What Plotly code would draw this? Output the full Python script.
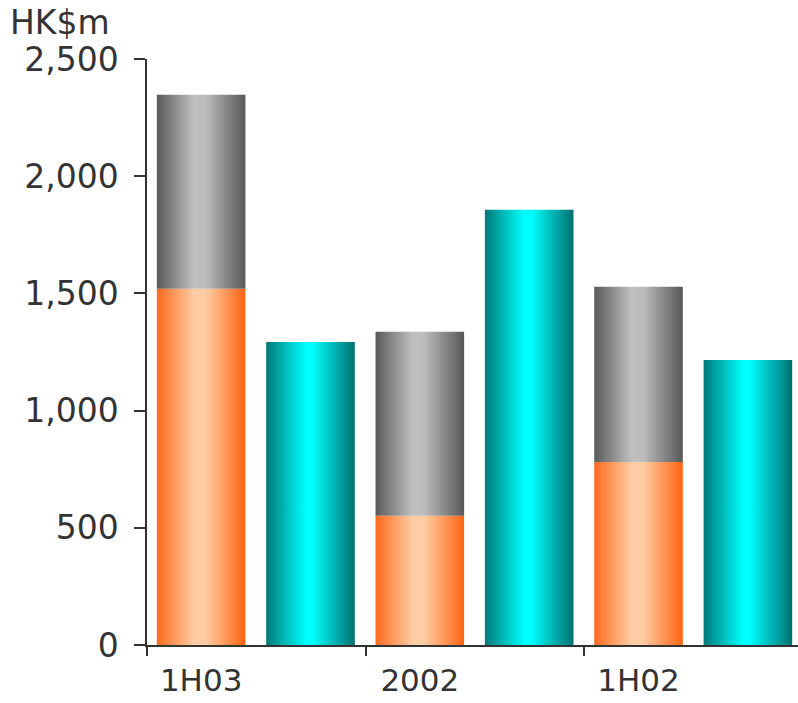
import plotly.graph_objects as go

# ---- data (HK$m) ----
categories = ["1H03", "2002", "1H02"]
orange_vals = [1520, 551, 781]        # lower stacked segment
grey_vals = [828, 785, 747]           # upper stacked segment
cyan_vals = [1293, 1857, 1216]        # single bar
y_ticks = [0, 500, 1000, 1500, 2000, 2500]
y_tick_labels = ["0", "500", "1,000", "1,500", "2,000", "2,500"]

# ---- styling ----
BAR_A = (0.045, 0.45)   # position of stacked bar within a group (group width = 1)
BAR_B = (0.545, 0.95)   # position of cyan bar within a group
ORANGE = [[0, "#ff6a1c"], [0.42, "#ffcca4"], [0.55, "#ffcca4"], [1, "#ff6410"]]
GREY = [[0, "#5a5a5a"], [0.42, "#c0c0c0"], [0.55, "#bcbcbc"], [1, "#585858"]]
CYAN = [[0, "#007a78"], [0.45, "#00ffff"], [0.52, "#00ffff"], [1, "#007070"]]
FONT = "DejaVu Sans"
FS = 33
FS_X = 31
TXT = "#333333"

fig = go.Figure()


def add_bar(i, span, base, value, scale):
    x0, x1 = i + span[0], i + span[1]
    top = base + value
    fig.add_trace(go.Scatter(
        x=[x0, x0, x1, x1, x0],
        y=[base, top, top, base, base],
        mode="lines", fill="toself",
        line=dict(width=0),
        fillgradient=dict(type="horizontal", colorscale=scale),
        hoverinfo="skip", showlegend=False,
    ))


for i in range(len(categories)):
    add_bar(i, BAR_A, 0, orange_vals[i], ORANGE)
    add_bar(i, BAR_A, orange_vals[i], grey_vals[i], GREY)
    add_bar(i, BAR_B, 0, cyan_vals[i], CYAN)

W, H = 798, 703
ML, MT, MB = 147, 59, 58
group_px = 218.7
plot_w = W - ML

fig.update_layout(
    width=W, height=H,
    margin=dict(l=ML, r=0, t=MT, b=MB, autoexpand=False),
    paper_bgcolor="white", plot_bgcolor="white",
    font=dict(family=FONT, size=FS, color=TXT),
    xaxis=dict(
        range=[0, plot_w / group_px],
        tickmode="array",
        tickvals=[i + (BAR_A[0] + BAR_A[1]) / 2 for i in range(len(categories))],
        ticktext=categories,
        tickfont=dict(family=FONT, size=FS_X, color=TXT),
        ticks="", ticklabelstandoff=7,
        showline=True, linecolor=TXT, linewidth=1.5,
        showgrid=False, zeroline=False, automargin=False,
        minor=dict(tickmode="array", tickvals=list(range(len(categories) + 1)),
                   ticks="outside", ticklen=9, tickwidth=1.5, tickcolor=TXT,
                   showgrid=False),
        fixedrange=True,
    ),
    yaxis=dict(
        range=[0, 2500],
        tickmode="array", tickvals=y_ticks, ticktext=y_tick_labels,
        ticks="outside", ticklen=11, tickwidth=1.5, tickcolor=TXT,
        ticklabelstandoff=9,
        showline=True, linecolor=TXT, linewidth=1.5,
        showgrid=False, zeroline=False, automargin=False,
        fixedrange=True,
    ),
    annotations=[dict(
        text="HK$m", xref="paper", yref="paper",
        x=-(ML - 8) / plot_w, y=1 + (MT - 22) / (H - MT - MB),
        xanchor="left", yanchor="middle", showarrow=False,
        font=dict(family=FONT, size=FS, color=TXT),
    )],
)

fig.write_html("out.html")
